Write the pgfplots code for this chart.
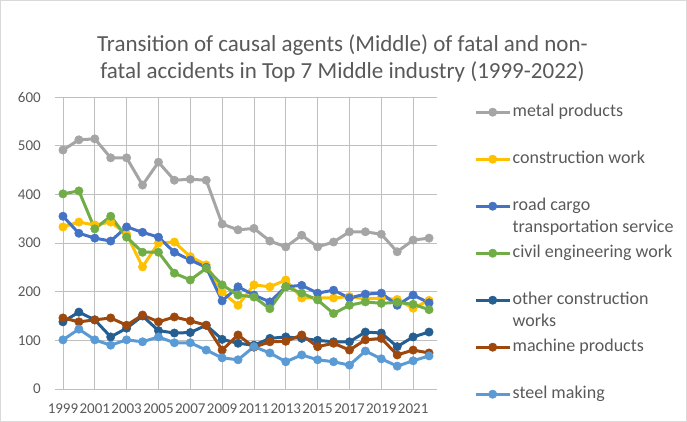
\documentclass[border=0pt]{standalone}
\usepackage{pgfplots}
\pgfplotsset{compat=1.18}
\usepackage{pgfplotstable}
\usepackage{fontspec}
\setmainfont{Carlito}
\definecolor{cGray}{HTML}{A5A5A5}
\definecolor{cGold}{HTML}{FFC000}
\definecolor{cBlue}{HTML}{4472C4}
\definecolor{cGreen}{HTML}{70AD47}
\definecolor{cDark}{HTML}{255E91}
\definecolor{cBrown}{HTML}{9E480E}
\definecolor{cLight}{HTML}{5B9BD5}
\definecolor{txt}{HTML}{595959}
\definecolor{grid}{HTML}{D9D9D9}
\pgfplotstableread{
year metal constr road civil other machine steel
1999 491 333 355 401 138 146 101
2000 512 343 320 407 158 138 123
2001 514 337 310 329 142 142 101
2002 475 343 304 355 107 146 90
2003 475 318 333 312 125 131 101
2004 419 251 322 281 150 152 97
2005 466 300 312 281 120 138 107
2006 429 302 281 238 115 148 95
2007 431 272 265 224 116 140 95
2008 429 255 250 248 131 131 80
2009 339 199 181 214 102 80 64
2010 327 172 210 193 94 111 60
2011 330 214 193 189 90 86 87
2012 304 210 179 165 104 97 74
2013 292 224 210 210 107 98 56
2014 316 187 213 197 104 111 70
2015 292 187 197 183 100 87 60
2016 302 187 203 155 97 94 56
2017 323 190 187 172 97 80 49
2018 323 185 195 179 117 101 78
2019 318 187 197 176 115 104 62
2020 282 184 172 178 87 70 47
2021 306 166 193 174 107 80 58
2022 310 182 177 163 117 74 68
}\datatable
\begin{document}
\begin{tikzpicture}
\useasboundingbox (0pt,0pt) rectangle (687pt,422pt);
\draw[grid, line width=0.75pt] (0.5pt,0.5pt) rectangle (686.5pt,421.5pt);
\node[txt, align=center, font=\fontsize{23pt}{27pt}\selectfont] at (342.5pt,363.5pt)
  {Transition of causal agents (Middle) of fatal and non-\\fatal accidents in Top 7 Middle industry (1999-2022)};
\begin{axis}[
  at={(55pt,33pt)}, anchor=south west,
  scale only axis, width=382pt, height=292pt,
  xmin=1998.5, xmax=2022.5, ymin=0, ymax=600,
  xtick={1999,2001,...,2021}, ytick={0,100,...,600},
  /pgf/number format/1000 sep={},
  /pgf/number format/assume math mode=true,
  ticklabel style={font=\fontsize{15pt}{17pt}\selectfont, text=txt},
  xticklabel style={anchor=center, yshift=-20pt, inner sep=0pt},
  yticklabel style={anchor=east, xshift=-14pt, inner sep=0pt},
  tick style={draw=none},
  axis line style={draw=none},
  ymajorgrids, grid style={grid, line width=0.75pt},
  clip=false,
  legend cell align=left,
  legend style={at={(1,1)}, anchor=north west, xshift=37pt, yshift=-7pt,
    draw=none, fill=none, inner sep=0pt, row sep=31pt,
    font=\fontsize{18pt}{22pt}\selectfont, text=txt,
    nodes={inner xsep=1.5pt, inner ysep=0pt, text height=12pt, text depth=4pt}},
  legend image code/.code={
    \draw[#1,mark repeat=2,mark phase=2] plot coordinates {(0pt,0pt)(17pt,0pt)(34pt,0pt)};
  },
  every axis plot/.append style={line width=3pt, line join=round, mark=*, mark size=4.2pt},
]
\addplot[cGray, mark options={fill=cGray, draw=cGray, line width=0.5pt}] table[x=year,y=metal]{\datatable};
\addlegendentry{metal products}
\addplot[cGold, mark options={fill=cGold, draw=cGold, line width=0.5pt}] table[x=year,y=constr]{\datatable};
\addlegendentry{construction work}
\addplot[cBlue, mark options={fill=cBlue, draw=cBlue, line width=0.5pt}] table[x=year,y=road]{\datatable};
\addlegendentry{\smash{\parbox[t]{180pt}{road cargo\\transportation service}}}
\addplot[cGreen, mark options={fill=cGreen, draw=cGreen, line width=0.5pt}] table[x=year,y=civil]{\datatable};
\addlegendentry{civil engineering work}
\addplot[cDark, mark options={fill=cDark, draw=cDark, line width=0.5pt}] table[x=year,y=other]{\datatable};
\addlegendentry{\smash{\parbox[t]{180pt}{other construction\\works}}}
\addplot[cBrown, mark options={fill=cBrown, draw=cBrown, line width=0.5pt}] table[x=year,y=machine]{\datatable};
\addlegendentry{machine products}
\addplot[cLight, mark options={fill=cLight, draw=cLight, line width=0.5pt}] table[x=year,y=steel]{\datatable};
\addlegendentry{steel making}
\end{axis}
\end{tikzpicture}
\end{document}
